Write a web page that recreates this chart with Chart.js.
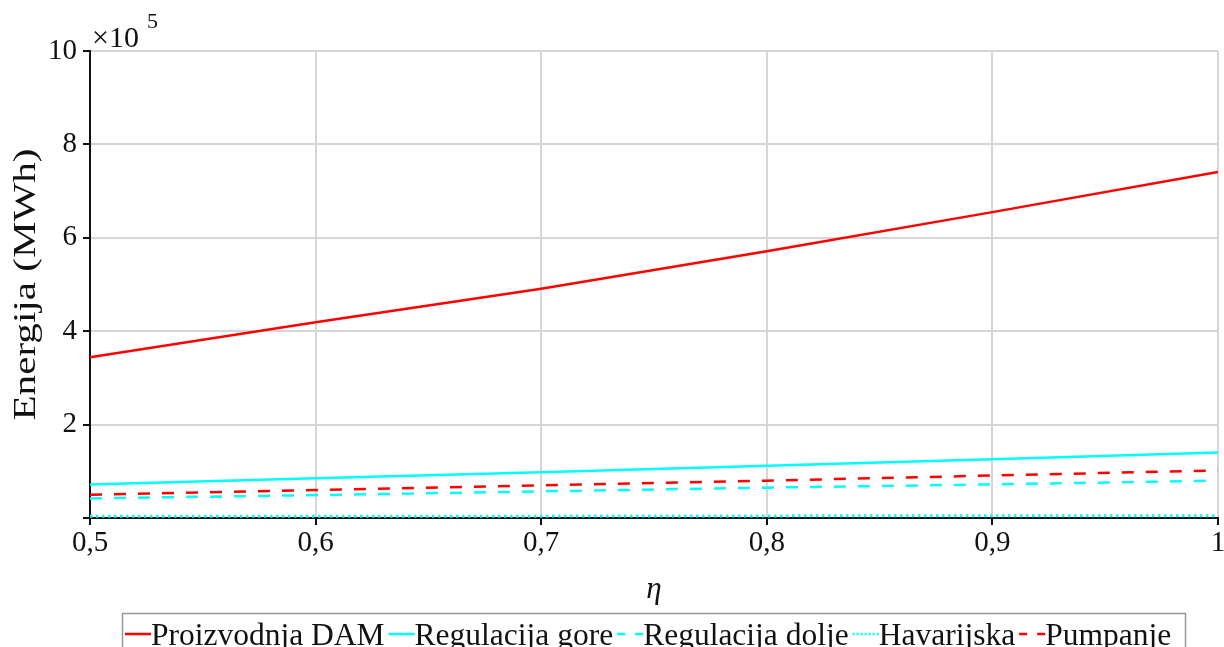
<!DOCTYPE html>
<html>
<head>
<meta charset="utf-8">
<script src="https://cdn.jsdelivr.net/npm/chart.js@4"></script>
<style>
html,body{margin:0;padding:0;background:#fff}
#wrap{width:1224px;height:647px}
</style>
</head>
<body>
<div id="wrap"><canvas id="chart" width="1224" height="647"></canvas></div>
<script>
const eta = [0.5, 0.6, 0.7, 0.8, 0.9, 1.0]
const proizvodnjaDAM = [3.44, 4.19, 4.91, 5.71, 6.55, 7.41]
const regulacijaGore = [0.72, 0.85, 0.98, 1.12, 1.26, 1.40]
const regulacijaDolje = [0.42, 0.49, 0.57, 0.65, 0.72, 0.80]
const havarijska = [0.035, 0.04, 0.04, 0.045, 0.05, 0.05]
const pumpanje = [0.50, 0.60, 0.70, 0.80, 0.91, 1.02]
const yTicks = [0, 2, 4, 6, 8, 10]
const yTitle = "Energija (MWh)"

const FONT = "'Liberation Serif', 'Times New Roman', serif"

function pts(vals){
return eta.map((x,i)=>({x:x, y:vals[i]}))
}

function ds(label, vals, color, dash, w){
return {
label:label,
data:pts(vals),
borderColor:color,
backgroundColor:color,
borderWidth:w || 2.5,
borderDash:dash,
borderCapStyle:"butt",
pointRadius:0,
tension:0,
fill:false
}
}

// y title (stretched like the original), x10^5 factor and framed legend
const extras = {
id:"extras",
afterDraw(chart){
const ctx = chart.ctx
const area = chart.chartArea
ctx.save()
ctx.fillStyle = "#111"

// y axis title
ctx.save()
ctx.font = "31px " + FONT
ctx.textAlign = "center"
ctx.textBaseline = "middle"
ctx.translate(27, (area.top + area.bottom)/2)
ctx.rotate(-Math.PI/2)
const tw = ctx.measureText(yTitle).width
ctx.scale(272/tw, 1)
ctx.fillText(yTitle, 0, 0)
ctx.restore()

ctx.textBaseline = "alphabetic"
ctx.textAlign = "left"
ctx.font = "30px " + FONT
ctx.fillText("\u00d710", area.left + 2, 47)
ctx.font = "22px " + FONT
ctx.fillText("5", area.left + 57, 28)

// legend
ctx.font = "31.5px " + FONT
const y = 634
let x = 125
const sample = 26
ctx.strokeStyle = "#999"
ctx.lineWidth = 1.5
ctx.strokeRect(122.5, 613.5, 1063, 45)
chart.data.datasets.forEach(d=>{
ctx.beginPath()
ctx.strokeStyle = d.borderColor
ctx.lineWidth = 2.5
ctx.setLineDash(d.borderDash && d.borderDash.length ? (d.borderDash[0] > 5 ? [8,10] : [2,2]) : [])
ctx.moveTo(x, y)
ctx.lineTo(x + sample, y)
ctx.stroke()
ctx.setLineDash([])
x += sample
ctx.fillStyle = "#111"
ctx.fillText(d.label, x, y + 11)
x += ctx.measureText(d.label).width + 4
})
ctx.restore()
}
}

const ctx = document.getElementById("chart").getContext("2d")

new Chart(ctx,{
type:"line",
data:{
datasets:[
ds("Proizvodnja DAM", proizvodnjaDAM, "#ff0000", []),
ds("Regulacija gore", regulacijaGore, "#00ffff", []),
ds("Regulacija dolje", regulacijaDolje, "#00ffff", [12,12]),
ds("Havarijska", havarijska, "#00ffff", [2.5,3.5], 3),
ds("Pumpanje", pumpanje, "#ff0000", [12,12])
]
},
options:{
responsive:false,
animation:false,
layout:{padding:{top:51, right:6, bottom:39, left:0}},
plugins:{
legend:{display:false},
tooltip:{enabled:false}
},
scales:{
x:{
type:"linear",
min:0.5,
max:1,
afterFit(scale){
scale.height = 90
scale.paddingLeft = 0
scale.paddingRight = 0
},
ticks:{
stepSize:0.1,
color:"#111",
padding:1,
maxRotation:0,
font:{family:FONT, size:29},
callback:v=>{
const r = Math.round(v*10)/10
return r === 1 ? "1" : r.toFixed(1).replace(".", ",")
}
},
grid:{
color:"#d6d6d6",
lineWidth:2,
tickColor:"#111",
tickLength:7,
tickWidth:2
},
border:{color:"#111", width:2},
title:{
display:true,
text:"\u03b7",
color:"#111",
padding:{top:0, bottom:0},
font:{family:FONT, size:31, style:"italic"}
}
},
y:{
min:0,
max:10,
afterFit(scale){
scale.width = 90
},
afterBuildTicks(scale){
scale.ticks = yTicks.map(v=>({value:v}))
},
ticks:{
color:"#111",
padding:6,
font:{family:FONT, size:29},
callback:v=> v === 0 ? "" : String(v)
},
grid:{
color:"#d6d6d6",
lineWidth:2,
tickColor:"#111",
tickLength:7,
tickWidth:2
},
border:{color:"#111", width:2}
}
}
},
plugins:[extras]
})
</script>
</body>
</html>
